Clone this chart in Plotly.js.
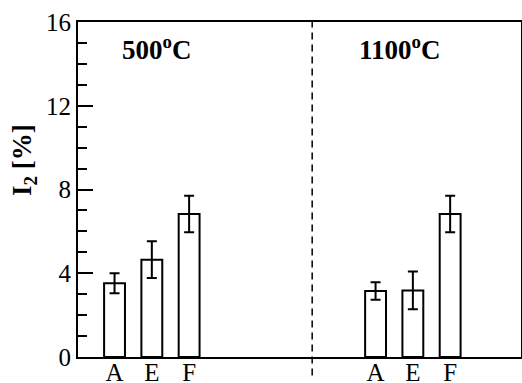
<!DOCTYPE html>
<html>
<head>
<meta charset="utf-8">
<script src="https://cdn.plot.ly/plotly-3.0.1.min.js"></script>
<style>html,body{margin:0;padding:0;background:#fff;}#chart{width:522px;height:383px;}</style>
</head>
<body>
<div id="chart"></div>
<script>
var categories = ['A', 'E', 'F'];
var groups = ['500<sup>o</sup>C', '1100<sup>o</sup>C'];
var values500 = [3.52, 4.65, 6.83];
var err500 = [0.48, 0.88, 0.87];
var values1100 = [3.15, 3.18, 6.83];
var err1100 = [0.42, 0.9, 0.87];
var yTicks = [0, 4, 8, 12, 16];

var x500 = categories.map(function(c, i){ return i + 1; });
var x1100 = categories.map(function(c, i){ return i + 8; });

function barTrace(x, y, e){
  return {
    type: 'bar', x: x, y: y, width: 0.56,
    marker: {color: '#ffffff', line: {color: '#000', width: 2}},
    error_y: {type: 'data', array: e, visible: true, color: '#000', thickness: 2, width: 5},
    showlegend: false, hoverinfo: 'skip'
  };
}

var fam = 'Liberation Serif, Times New Roman, serif';

var layout = {
  width: 522, height: 383,
  margin: {l: 78, r: 1, t: 22, b: 26},
  paper_bgcolor: '#fff', plot_bgcolor: '#fff',
  showlegend: false,
  font: {family: fam, color: '#000'},
  xaxis: {
    range: [0.02, 11.9],
    tickvals: x500.concat(x1100),
    ticktext: categories.concat(categories),
    ticks: '', showgrid: false, zeroline: false,
    showline: true, linecolor: '#000', linewidth: 2, mirror: true,
    tickfont: {family: fam, color: '#000', size: 25},
    ticklabelstandoff: -8
  },
  yaxis: {
    range: [0, 16],
    tickvals: yTicks,
    ticks: 'inside', ticklen: 15, tickwidth: 2, tickcolor: '#000',
    minor: {dtick: 1, ticks: 'inside', ticklen: 9, tickwidth: 2, tickcolor: '#000', showgrid: false},
    showgrid: false, zeroline: false,
    showline: true, linecolor: '#000', linewidth: 2, mirror: true,
    tickfont: {family: fam, color: '#000', size: 25}
  },
  shapes: [{
    type: 'line', xref: 'x', yref: 'paper', x0: 6.3, x1: 6.3, y0: -0.055, y1: 1,
    line: {color: '#000', width: 1.5, dash: '7px,5px'}
  }],
  annotations: [
    {x: -0.122, y: 0.588, xref: 'paper', yref: 'paper', xanchor: 'center', yanchor: 'middle',
     text: '<b>I<sub>2</sub> [%]</b>', textangle: -90,
     showarrow: false, font: {family: fam, color: '#000', size: 27}},
    {x: 2.126, y: 14.76, xref: 'x', yref: 'y', xanchor: 'center', yanchor: 'middle',
     text: '<b>' + groups[0] + '</b>', showarrow: false,
     font: {family: fam, color: '#000', size: 27}},
    {x: 8.63, y: 14.76, xref: 'x', yref: 'y', xanchor: 'center', yanchor: 'middle',
     text: '<b>' + groups[1] + '</b>', showarrow: false,
     font: {family: fam, color: '#000', size: 27}}
  ]
};

Plotly.newPlot('chart', [barTrace(x500, values500, err500), barTrace(x1100, values1100, err1100)], layout, {displayModeBar: false, staticPlot: true});
</script>
</body>
</html>
